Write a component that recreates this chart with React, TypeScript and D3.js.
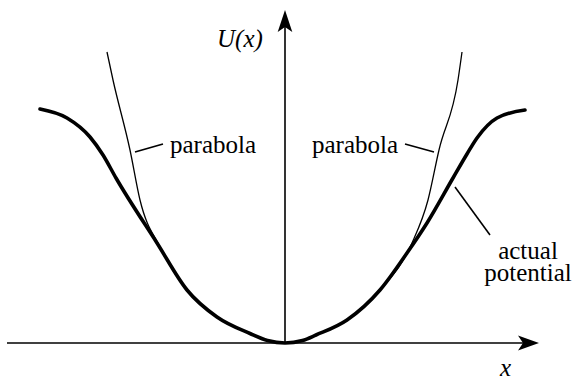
import { useEffect, useRef } from 'react'
import * as d3 from 'd3'

// data units: 1 unit ~ 50px, origin at the minimum of the well
const xAxisRange = [-5.56, 5.08]
const yAxisRange = [0, 6.66]

const actualPotential: [number, number][] = [
  [-4.9, 4.68], [-4.36, 4.5], [-3.9, 4.12], [-3.64, 3.76], [-3.38, 3.3],
  [-2.56, 2.0], [-1.96, 1.06], [-1.36, 0.52], [-0.7, 0.19], [-0.35, 0.05], [0, 0],
  [0.35, 0.05], [0.62, 0.16], [1.24, 0.46], [1.9, 1.06], [2.44, 1.8], [2.84, 2.4],
  [3.36, 3.3], [3.64, 3.78], [3.84, 4.1], [4.24, 4.5], [4.8, 4.66],
]

const parabola: [number, number][] = [
  [-3.56, 5.82], [-3.44, 5.26], [-3.1, 3.86], [-2.9, 2.86], [-2.5, 1.92],
  [-1.96, 1.06], [-1.36, 0.52], [-0.7, 0.19], [-0.35, 0.05], [0, 0],
  [0.35, 0.05], [0.62, 0.16], [1.24, 0.46], [1.9, 1.06], [2.54, 2.0], [2.86, 2.86],
  [3.08, 3.86], [3.46, 5.26], [3.54, 5.82],
]

const leaders: [number, number, number, number][] = [
  [-3.0, 3.82, -2.44, 3.98],
  [2.4, 3.98, 2.98, 3.82],
  [3.4, 3.12, 4.1, 2.16],
]

const labels = [
  { text: 'parabola', x: -2.3, y: 3.8, anchor: 'start', italic: false },
  { text: 'parabola', x: 0.54, y: 3.8, anchor: 'start', italic: false },
  { text: 'actual', x: 4.86, y: 1.68, anchor: 'middle', italic: false },
  { text: 'potential', x: 4.86, y: 1.24, anchor: 'middle', italic: false },
  { text: 'U(x)', x: -1.36, y: 5.92, anchor: 'start', italic: true },
  { text: 'x', x: 4.3, y: -0.66, anchor: 'start', italic: true },
]

export default function App() {
  const svgRef = useRef<SVGSVGElement>(null)

  useEffect(() => {
    const W = 574
    const H = 379
    const xScale = d3.scaleLinear().domain(xAxisRange).range([7, 539])
    const yScale = d3.scaleLinear().domain(yAxisRange).range([343, 10])

    const svg = d3.select(svgRef.current)
    svg.selectAll('*').remove()
    svg.attr('width', W).attr('height', H)

    const x0 = xScale(0)
    const y0 = yScale(0)
    const xTip = xScale(xAxisRange[1])
    const yTip = yScale(yAxisRange[1])

    // Axes
    svg.append('line')
      .attr('x1', xScale(xAxisRange[0])).attr('x2', xTip - 10)
      .attr('y1', y0).attr('y2', y0)
      .attr('stroke', '#000').attr('stroke-width', 1.6)
    svg.append('line')
      .attr('x1', x0).attr('x2', x0)
      .attr('y1', y0).attr('y2', yTip + 10)
      .attr('stroke', '#000').attr('stroke-width', 1.6)

    // Arrowheads
    svg.append('path')
      .attr('d', `M${x0},${yTip} L${x0 + 7.3},${yTip + 22} L${x0},${yTip + 17} L${x0 - 7.3},${yTip + 22} Z`)
      .attr('fill', '#000')
    svg.append('path')
      .attr('d', `M${xTip},${y0} L${xTip - 21},${y0 + 7.5} L${xTip - 16},${y0} L${xTip - 21},${y0 - 7.5} Z`)
      .attr('fill', '#000')

    // Curves
    const line = d3.line<[number, number]>()
      .x((d) => xScale(d[0]))
      .y((d) => yScale(d[1]))
      .curve(d3.curveMonotoneX)

    svg.append('path')
      .datum(parabola)
      .attr('fill', 'none').attr('stroke', '#000').attr('stroke-width', 1.3)
      .attr('d', line)
    svg.append('path')
      .datum(actualPotential)
      .attr('fill', 'none').attr('stroke', '#000').attr('stroke-width', 3.6)
      .attr('stroke-linecap', 'round')
      .attr('d', line)

    // Leader lines
    svg.selectAll('.leader')
      .data(leaders)
      .join('line')
      .attr('x1', (d) => xScale(d[0])).attr('y1', (d) => yScale(d[1]))
      .attr('x2', (d) => xScale(d[2])).attr('y2', (d) => yScale(d[3]))
      .attr('stroke', '#000').attr('stroke-width', 1.6)

    // Labels
    svg.selectAll('.lbl')
      .data(labels)
      .join('text')
      .attr('x', (d) => xScale(d.x)).attr('y', (d) => yScale(d.y))
      .attr('text-anchor', (d) => d.anchor)
      .attr('font-family', 'Liberation Serif, Times New Roman, serif')
      .attr('font-size', 25)
      .attr('font-style', (d) => (d.italic ? 'italic' : 'normal'))
      .attr('fill', '#000')
      .text((d) => d.text)
  }, [])

  return (
    <svg ref={svgRef} style={{ position: 'absolute', left: 0, top: 0 }} />
  )
}
